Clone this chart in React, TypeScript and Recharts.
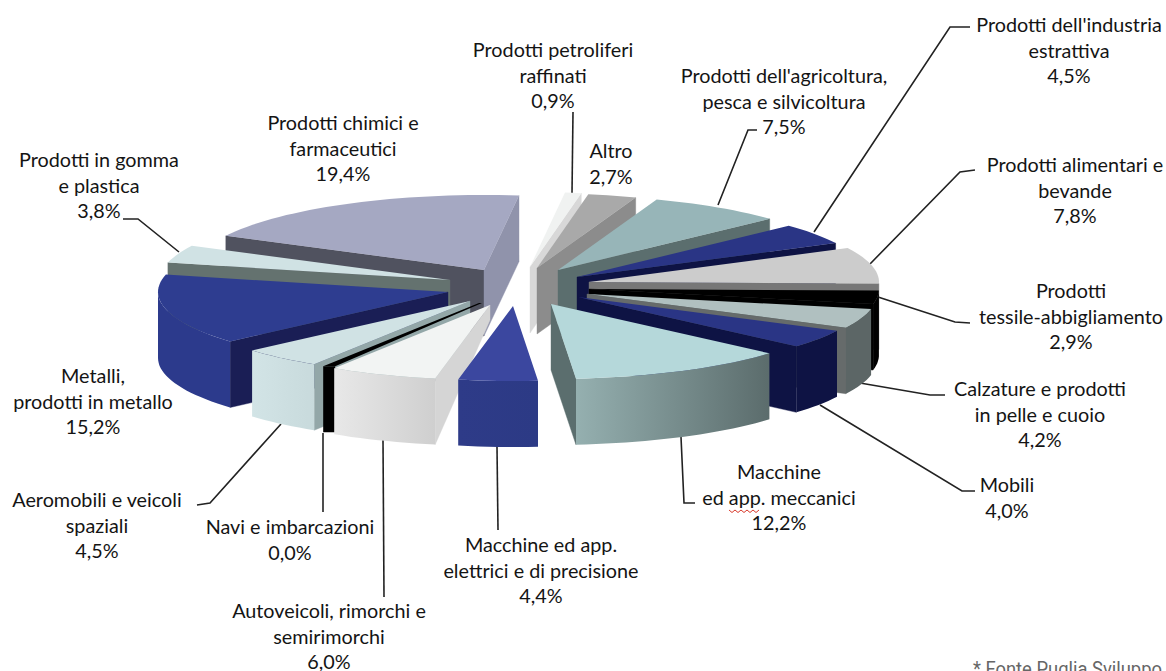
import React from "react"
import { Pie, PieChart } from "recharts"

// clockwise from the back of the pie
const categories = [
  "Chimici", "Petroliferi", "Altro", "Agricoltura", "Estrattiva", "Alimentari", "Tessile", "Calzature",
  "Mobili", "Meccanici", "Elettrici", "Autoveicoli", "Navi", "Aeromobili", "Metalli", "Gomma",
]
const shares = [19.4, 0.9, 2.7, 7.5, 4.5, 7.8, 2.9, 4.2, 4.0, 12.2, 4.4, 6.0, 0.0, 4.5, 15.2, 3.8]

// slice names painted in the second pass, back to front on the left side
const leftSide = ["Gomma", "Metalli", "Aeromobili", "Navi", "Autoveicoli", "Elettrici"]

const labelLines: Record<string, string[]> = {
  Chimici: ["Prodotti chimici e", "farmaceutici"],
  Petroliferi: ["Prodotti petroliferi", "raffinati"],
  Altro: ["Altro"],
  Agricoltura: ["Prodotti dell'agricoltura,", "pesca e silvicoltura"],
  Estrattiva: ["Prodotti dell'industria", "estrattiva"],
  Alimentari: ["Prodotti alimentari e", "bevande"],
  Tessile: ["Prodotti", "tessile-abbigliamento"],
  Calzature: ["Calzature e prodotti", "in pelle e cuoio"],
  Mobili: ["Mobili"],
  Meccanici: ["Macchine", "ed app. meccanici"],
  Elettrici: ["Macchine ed app.", "elettrici e di precisione"],
  Autoveicoli: ["Autoveicoli, rimorchi e", "semirimorchi"],
  Navi: ["Navi e imbarcazioni"],
  Aeromobili: ["Aeromobili e veicoli", "spaziali"],
  Metalli: ["Metalli,", "prodotti in metallo"],
  Gomma: ["Prodotti in gomma", "e plastica"],
}

const labelPos: Record<string, [number, number]> = {
  Chimici: [343, 130],
  Petroliferi: [553, 57],
  Altro: [611, 158],
  Agricoltura: [784, 83],
  Estrattiva: [1069, 32],
  Alimentari: [1075, 172],
  Tessile: [1071, 298],
  Calzature: [1040, 396],
  Mobili: [1007, 492],
  Meccanici: [779, 479],
  Elettrici: [541, 552],
  Autoveicoli: [329, 618],
  Navi: [290, 534],
  Aeromobili: [97, 507],
  Metalli: [93, 383],
  Gomma: [99, 167],
}

const leaders = [
  "573,112 572,193",
  "757,130 748,130 718,205",
  "970,27 950,27 814,232",
  "975,170 960,172 870,264",
  "878,297 955,322 970,323",
  "860,383 930,395 945,395",
  "820,405 962,491 975,491",
  "681,437 684,503 695,503",
  "497,447 498,530",
  "383,440 384,597",
  "323,433 323,512",
  "281,424 210,503 197,505",
  "179,252 138,219 123,219",
]

type SliceStyle = {
  dx: number
  dy: number
  top: string
  cutStart: string
  cutEnd: string
  outer: [string, string]
  innerDepth?: number
  sliver?: number
}

// explode offsets from the pie centre, and the face colours
const sliceStyles: Record<string, SliceStyle> = {
  Chimici: { dx: -36, dy: -20, top: "#a5a8c2", cutStart: "#50525f", cutEnd: "#9093ab", outer: ["#a5a8c2", "#a5a8c2"] },
  Petroliferi: { dx: 10, dy: -23, top: "#f0f2f1", cutStart: "#d8d8d8", cutEnd: "#d8d8d8", outer: ["#d8d8d8", "#d8d8d8"] },
  Altro: { dx: 17, dy: -22, top: "#a9a9a9", cutStart: "#8c8c8c", cutEnd: "#8c8c8c", outer: ["#8c8c8c", "#8c8c8c"] },
  Agricoltura: { dx: 38, dy: -20, top: "#97b5b8", cutStart: "#5b6e6e", cutEnd: "#5b6e6e", outer: ["#5b6e6e", "#5b6e6e"] },
  Estrattiva: { dx: 57, dy: -13, top: "#2a3585", cutStart: "#0e1344", cutEnd: "#0e1344", outer: ["#0e1344", "#0e1344"] },
  Alimentari: { dx: 69, dy: -8, top: "#cccccc", cutStart: "#777777", cutEnd: "#777777", outer: ["#777777", "#777777"] },
  Tessile: { dx: 69, dy: -1, top: "#000000", cutStart: "#000000", cutEnd: "#000000", outer: ["#000000", "#000000"] },
  Calzature: { dx: 67, dy: 4, top: "#b0c0c0", cutStart: "#666b6b", cutEnd: "#666b6b", outer: ["#5c6666", "#5c6666"] },
  Mobili: { dx: 58, dy: 7, top: "#2a3585", cutStart: "#0e1344", cutEnd: "#0e1344", outer: ["#0e1344", "#0e1344"] },
  Meccanici: { dx: 31, dy: 14, top: "#b5d8da", cutStart: "#5b6e6e", cutEnd: "#5b6e6e", outer: ["#5b6c6c", "#95b0b0"] },
  Elettrici: { dx: -7, dy: 16, top: "#3b479f", cutStart: "#2c3a85", cutEnd: "#2c3a85", outer: ["#2c3a85", "#2e3b88"] },
  Autoveicoli: { dx: -30, dy: 15, top: "#f2f4f3", cutStart: "#d5d5d5", cutEnd: "#d5d5d5", outer: ["#cfcfcf", "#e8e8e8"], innerDepth: 15 },
  Navi: { dx: -41, dy: 13, top: "#000000", cutStart: "#000000", cutEnd: "#000000", outer: ["#000000", "#000000"], sliver: 12 },
  Aeromobili: { dx: -50, dy: 11, top: "#d0e2e4", cutStart: "#93a7a8", cutEnd: "#93a7a8", outer: ["#c8dadc", "#d2e4e6"] },
  Metalli: { dx: -72, dy: 2, top: "#2e3d90", cutStart: "#1a1e55", cutEnd: "#1a1e55", outer: ["#2c3a8c", "#2c3a8c"] },
  Gomma: { dx: -70, dy: -10, top: "#d0e2e4", cutStart: "#64726f", cutEnd: "#64726f", outer: ["#64726f", "#64726f"] },
}

const SQUASH = 0.2586
const DEPTH = 66
const CX = 520
const CY = 290
const START = 152.9

const chartData = categories.map((name, i) => ({ name, value: shares[i] }))
const reversedData = [...chartData].reverse()

const fmt = (p: { x: number; y: number }) => `${p.x.toFixed(1)},${p.y.toFixed(1)}`

function SliceShape(props: any) {
  const { cx, cy, outerRadius, startAngle, endAngle, name, only } = props
  const isLeft = leftSide.includes(name)
  if (only === "left" ? !isLeft : isLeft) return null
  const s = sliceStyles[name]
  const ax = cx + s.dx
  const ay = cy + s.dy
  const ry = outerRadius * SQUASH
  const lo = Math.min(90 - startAngle, 90 - endAngle)
  const hi = Math.max(90 - startAngle, 90 - endAngle)
  const at = (deg: number, shift = 0, drop = 0) => {
    const t = (deg * Math.PI) / 180
    return { x: ax + shift + outerRadius * Math.sin(t), y: ay + drop - ry * Math.cos(t) }
  }
  const sweep = (from: number, to: number, drop = 0) => {
    const n = Math.max(2, Math.ceil(Math.abs(to - from) / 2))
    return Array.from({ length: n + 1 }, (_, k) => at(from + ((to - from) * k) / n, 0, drop))
  }
  const apex = { x: ax, y: ay }
  const inner = s.innerDepth ?? DEPTH

  if (s.sliver) {
    const a = at(lo)
    const b = at(lo, s.sliver)
    return (
      <g>
        <polygon points={`${ax},${ay} ${ax + 3},${ay} ${fmt(b)} ${fmt(a)}`} fill={s.top} />
        <polygon points={`${fmt(a)} ${fmt(b)} ${b.x},${b.y + DEPTH} ${a.x},${a.y + DEPTH}`} fill={s.top} />
      </g>
    )
  }

  const mid = at((lo + hi) / 2)
  const cutWall = (deg: number, color: string) => {
    const e = at(deg)
    const yOnEdge = apex.y + ((e.y - apex.y) * (mid.x - apex.x)) / (e.x - apex.x)
    if (mid.y >= yOnEdge) return null
    return (
      <polygon
        points={`${fmt(apex)} ${fmt(e)} ${e.x},${e.y + DEPTH} ${apex.x},${apex.y + inner}`}
        fill={color}
        stroke={color}
        strokeWidth={0.4}
      />
    )
  }

  const frontLo = Math.max(lo, 90)
  const frontHi = Math.min(hi, 270)
  const hasOuter = frontHi > frontLo
  const gradId = `wall-${categories.indexOf(name)}`
  const wallTop = hasOuter ? sweep(frontLo, frontHi) : []
  const wallBottom = hasOuter ? sweep(frontHi, frontLo, DEPTH) : []

  return (
    <g>
      {cutWall(lo, s.cutStart)}
      {cutWall(hi, s.cutEnd)}
      {hasOuter && (
        <>
          <defs>
            <linearGradient
              id={gradId}
              gradientUnits="userSpaceOnUse"
              x1={Math.min(at(frontLo).x, at(frontHi).x)}
              x2={Math.max(at(frontLo).x, at(frontHi).x)}
              y1={0}
              y2={0}
            >
              <stop offset="0%" stopColor={s.outer[1]} />
              <stop offset="100%" stopColor={s.outer[0]} />
            </linearGradient>
          </defs>
          <polygon points={[...wallTop, ...wallBottom].map(fmt).join(" ")} fill={`url(#${gradId})`} />
        </>
      )}
      <polygon points={[apex, ...sweep(lo, hi)].map(fmt).join(" ")} fill={s.top} />
    </g>
  )
}

function Labels() {
  return (
    <g fontFamily="Lato, sans-serif" fontSize={19.8} fill="#141414" textAnchor="middle">
      {categories.map((name, i) => {
        const [x, y] = labelPos[name]
        const lines = [...labelLines[name], `${shares[i].toFixed(1).replace(".", ",")}%`]
        return (
          <text key={name} x={x} y={y}>
            {lines.map((line, k) => (
              <tspan key={k} x={x} dy={k === 0 ? 0 : 25.6}>
                {line}
              </tspan>
            ))}
          </text>
        )
      })}
    </g>
  )
}

export default function App() {
  return (
    <div style={{ position: "absolute", left: 0, top: 0, width: 1166, height: 671, overflow: "hidden", background: "#fff" }}>
      <PieChart width={1166} height={671} margin={{ top: 0, right: 0, bottom: 0, left: 0 }}>
        <Pie
          data={chartData}
          dataKey="value"
          nameKey="name"
          cx={CX}
          cy={CY}
          outerRadius={290}
          startAngle={START}
          endAngle={START - 360}
          stroke="none"
          isAnimationActive={false}
          shape={(p: any) => <SliceShape {...p} only="right" />}
        />
        <Pie
          data={reversedData}
          dataKey="value"
          nameKey="name"
          cx={CX}
          cy={CY}
          outerRadius={290}
          startAngle={START - 360}
          endAngle={START}
          stroke="none"
          isAnimationActive={false}
          shape={(p: any) => <SliceShape {...p} only="left" />}
        />
        <g fill="none" stroke="#222" strokeWidth={1.6}>
          {leaders.map((pts) => (
            <polyline key={pts} points={pts} />
          ))}
        </g>
        <Labels />
        <path
          d="M729 510 l3 2.5 3 -2.5 3 2.5 3 -2.5 3 2.5 3 -2.5 3 2.5 3 -2.5 3 2.5 3 -2.5"
          fill="none"
          stroke="#d8392b"
          strokeWidth={1}
        />
        <text
          x={973}
          y={676}
          fontFamily="Roboto, sans-serif"
          fontSize={20}
          fill="#666"
          textLength={189}
          lengthAdjust="spacingAndGlyphs"
        >
          * Fonte Puglia Sviluppo
        </text>
      </PieChart>
    </div>
  )
}
